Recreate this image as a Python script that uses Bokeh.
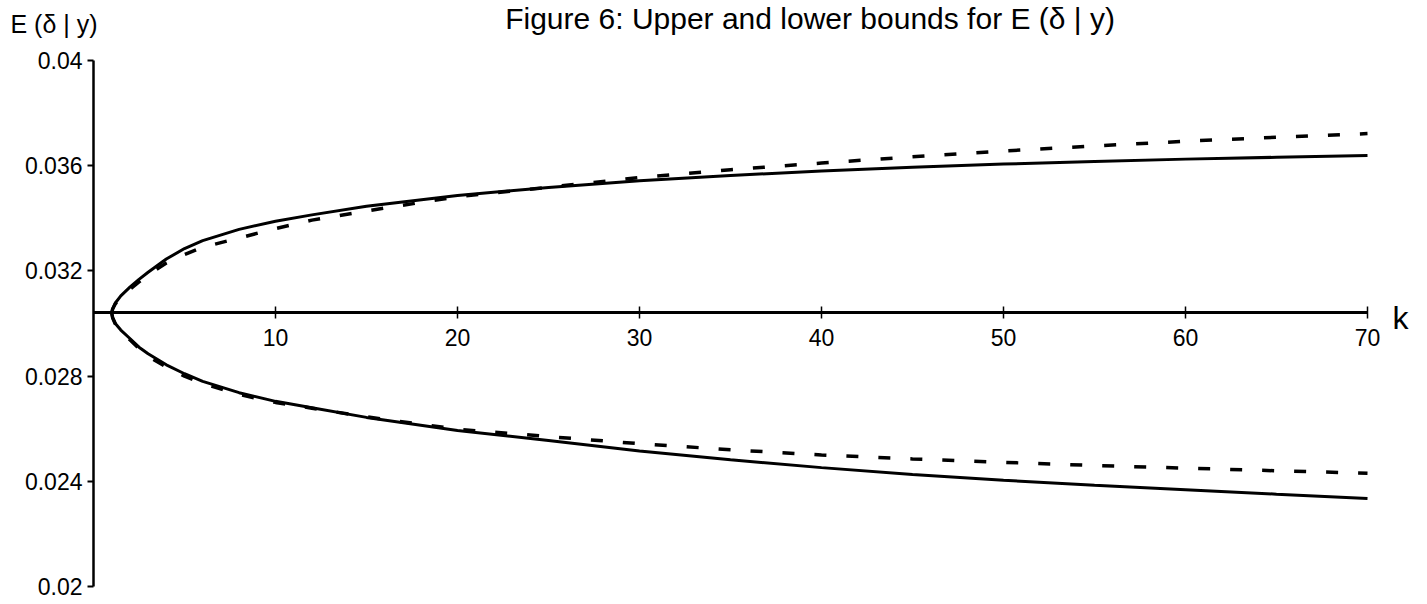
from bokeh.plotting import figure
from bokeh.models import Range1d, FixedTicker, PrintfTickFormatter, Label
from bokeh.embed import file_html
from bokeh.resources import INLINE

# ---- data ----
k = [1, 1.05, 1.2, 1.5, 2, 2.5, 3, 4, 5, 6, 8, 10, 12, 15, 20, 25, 30, 35, 40, 45, 50, 55, 60, 65, 70]
upper_solid = [0.0304, 0.03055, 0.03078, 0.03105, 0.03138, 0.03168, 0.03195, 0.03245, 0.03285,
               0.03315, 0.03358, 0.03389, 0.03413, 0.03446, 0.03487, 0.03517, 0.03543, 0.03563,
               0.03580, 0.03594, 0.03606, 0.03616, 0.03625, 0.03632, 0.03639]
upper_dashed = [0.0304, 0.03055, 0.03075, 0.03100, 0.03130, 0.03158, 0.03185, 0.03230, 0.03262,
                0.03290, 0.03325, 0.03361, 0.03393, 0.03428, 0.03482, 0.03518, 0.03555, 0.03585,
                0.03610, 0.03634, 0.03656, 0.03675, 0.03693, 0.03708, 0.03722]
lower_solid = [0.0304, 0.03022, 0.03000, 0.02975, 0.02943, 0.02910, 0.02885, 0.02843, 0.02809,
               0.02780, 0.02737, 0.02704, 0.02680, 0.02643, 0.02593, 0.02555, 0.02515, 0.02482,
               0.02452, 0.02426, 0.02404, 0.02385, 0.02368, 0.02351, 0.02335]
lower_dashed = [0.0304, 0.03022, 0.02998, 0.02971, 0.02938, 0.02905, 0.02875, 0.02835, 0.02800,
                0.02772, 0.02730, 0.02700, 0.02678, 0.02645, 0.02598, 0.02570, 0.02543, 0.02520,
                0.02500, 0.02485, 0.02472, 0.02460, 0.02450, 0.02440, 0.02431]
x_ticks = [10, 20, 30, 40, 50, 60, 70]
y_ticks = [0.02, 0.024, 0.028, 0.032, 0.036, 0.04]
x_axis_at = 0.0304

title_text = "Figure 6: Upper  and lower bounds for E (\u03b4 | y)"
y_label_text = "E (\u03b4 | y)"
x_label_text = "k"

FONT = "Liberation Sans"

W, H = 1425, 602
# frame fills the whole canvas; axes are placed at fixed locations inside it
PX_PER_K = 18.2
PX_PER_V = 26300.0
X0_PX, Y_TOP_PX = 93, 60          # pixel position of k=0 and of E=0.04
x_lo = -X0_PX / PX_PER_K
x_hi = (W - X0_PX) / PX_PER_K
y_hi = 0.04 + Y_TOP_PX / PX_PER_V
y_lo = 0.04 - (H - Y_TOP_PX) / PX_PER_V

p = figure(width=W, height=H, output_backend="svg", toolbar_location=None,
           x_range=Range1d(x_lo, x_hi), y_range=Range1d(y_lo, y_hi),
           min_border_left=0, min_border_right=0, min_border_top=0, min_border_bottom=0)
p.outline_line_color = None
p.xgrid.visible = False
p.ygrid.visible = False
p.background_fill_color = "white"
p.border_fill_color = "white"

# y axis at k = 0
ya = p.yaxis[0]
ya.fixed_location = 0
ya.bounds = (0.02, 0.04)
ya.ticker = FixedTicker(ticks=y_ticks, minor_ticks=[])
ya.formatter = PrintfTickFormatter(format="%g")
ya.axis_line_width = 2.5
ya.axis_line_color = "black"
ya.major_tick_line_width = 2
ya.major_tick_out = 6
ya.major_tick_in = 0
ya.minor_tick_line_color = None
ya.major_label_text_font = FONT
ya.major_label_text_font_size = "23px"
ya.major_label_text_color = "black"
ya.major_label_standoff = 5

# x axis crossing at E = 0.0304
xa = p.xaxis[0]
xa.fixed_location = x_axis_at
xa.bounds = (0, 70)
xa.ticker = FixedTicker(ticks=x_ticks, minor_ticks=[])
xa.axis_line_width = 3
xa.axis_line_color = "black"
xa.major_tick_line_width = 1.5
xa.major_tick_out = 6
xa.major_tick_in = 6
xa.minor_tick_line_color = None
xa.major_label_text_font = FONT
xa.major_label_text_font_size = "23px"
xa.major_label_text_color = "black"
xa.major_label_standoff = 10

# curves
p.line(k, upper_solid, line_color="black", line_width=3)
p.line(k, lower_solid, line_color="black", line_width=3)
p.line(k, upper_dashed, line_color="black", line_width=3.5, line_dash="12 20")
p.line(k, lower_dashed, line_color="black", line_width=3.5, line_dash="12 20")

# texts
p.add_layout(Label(x=39.6, y=0.04, y_offset=42, text=title_text, text_align="center",
                   text_baseline="alphabetic", text_font=FONT, text_font_size="30px",
                   text_color="black"))
p.add_layout(Label(x=0, y=0.04, x_offset=-83, y_offset=37, text=y_label_text,
                   text_align="left", text_baseline="alphabetic", text_font=FONT,
                   text_font_size="25px", text_color="black"))
p.add_layout(Label(x=70, y=x_axis_at, x_offset=25, y_offset=-5, text=x_label_text,
                   text_align="left", text_baseline="alphabetic", text_font=FONT,
                   text_font_size="32px", text_color="black"))

open("out.html", "w").write(file_html(p, INLINE))
